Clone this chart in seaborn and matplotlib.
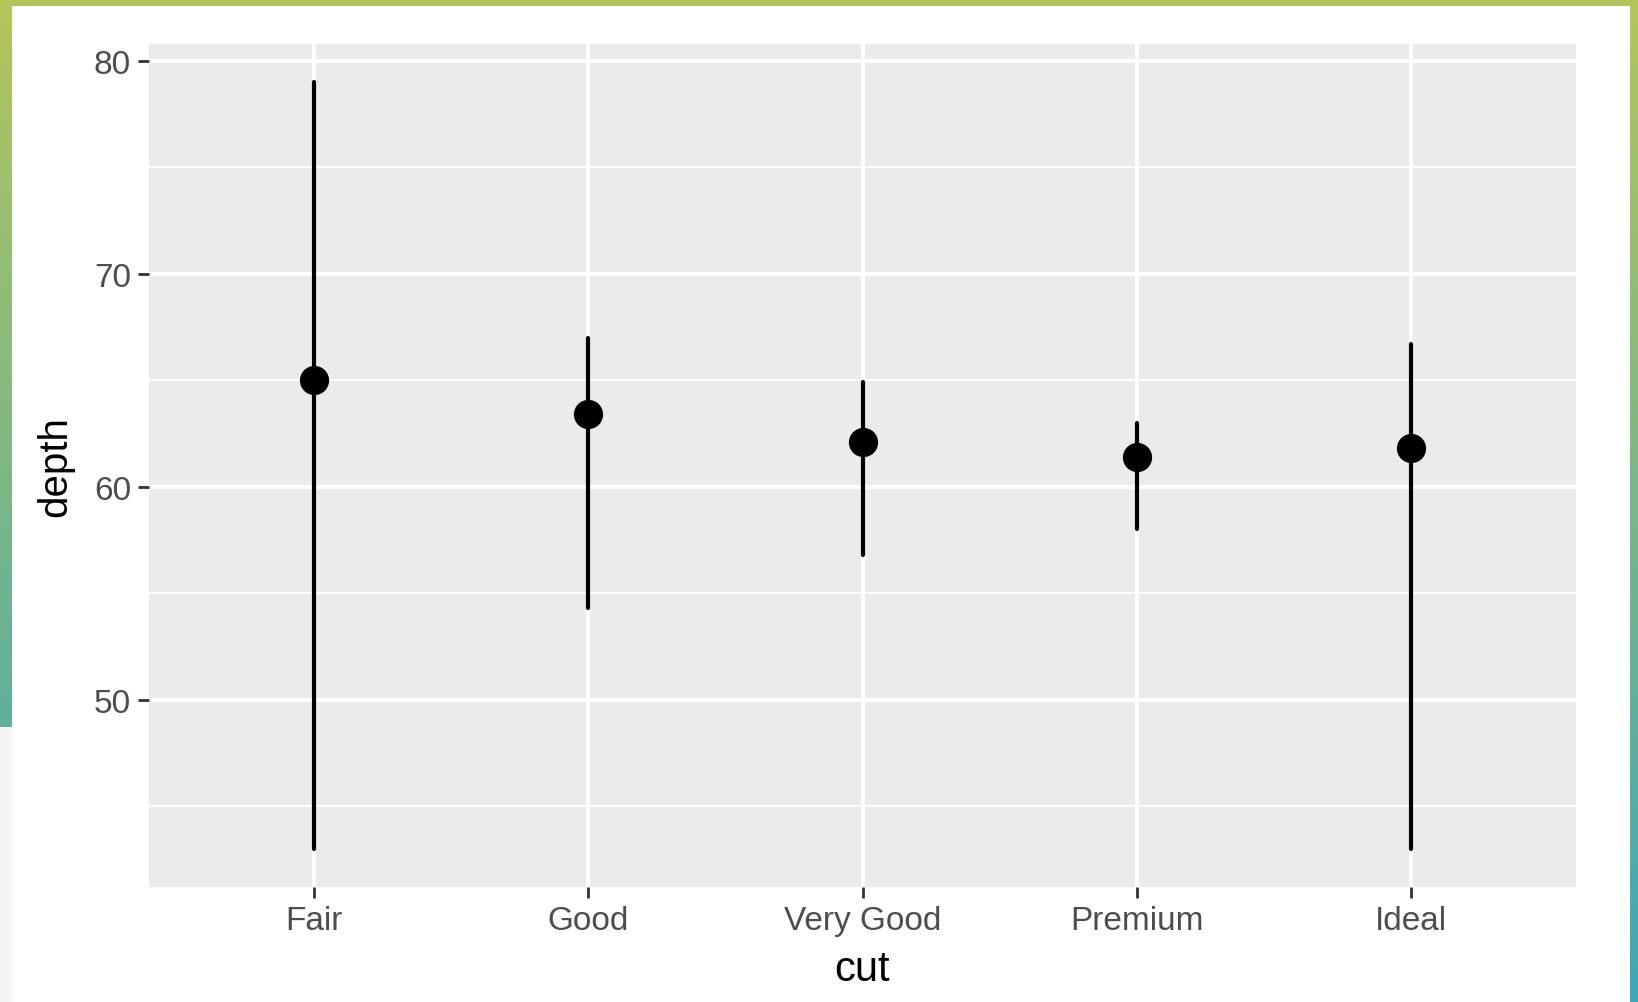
import numpy as np
import pandas as pd
import matplotlib
matplotlib.use("Agg")
import matplotlib.pyplot as plt
import seaborn as sns
from matplotlib.ticker import MultipleLocator

# Depth summary per diamond cut: minimum, median and maximum
cuts = ["Fair", "Good", "Very Good", "Premium", "Ideal"]
depth_min = [43.0, 54.3, 56.8, 58.0, 43.0]
depth_median = [65.0, 63.4, 62.1, 61.4, 61.8]
depth_max = [79.0, 67.0, 64.9, 63.0, 66.7]

# Long table: median of (min, median, max) is the median, the range is min..max
rows = []
for c, lo, med, hi in zip(cuts, depth_min, depth_median, depth_max):
    for v in (lo, med, hi):
        rows.append({"cut": c, "depth": v})
df = pd.DataFrame(rows)

sns.set_theme(style="darkgrid")
plt.rcParams["font.family"] = ["Liberation Sans", "DejaVu Sans"]

W, H = 1638, 1003
fig = plt.figure(figsize=(W / 100, H / 100), dpi=100)
fig.patch.set_facecolor("white")

# Gradient frame around the card
top_c = np.array([180, 197, 92]) / 255
bot_c = np.array([64, 167, 182]) / 255
t = np.linspace(0, 1, H)[:, None]
col = top_c + (bot_c - top_c) * t
frame = np.repeat(col[:, None, :], W, axis=1)
frame[7:, 12:1630] = 1.0
frame[728:, :12] = 0.961
bg = fig.add_axes([0, 0, 1, 1], zorder=-10)
bg.imshow(frame, aspect="auto", interpolation="nearest")
bg.axis("off")

ax = fig.add_axes([149 / W, 1 - 888 / H, (1576 - 149) / W, (888 - 45) / H])
ax.set_facecolor("#ebebeb")

sns.pointplot(
    data=df, x="cut", y="depth", order=cuts,
    estimator="median", errorbar=lambda v: (v.min(), v.max()),
    linestyle="none", color="black", markers="o", markersize=19,
    err_kws={"linewidth": 3.0, "color": "black"}, ax=ax,
)

ax.set_xlim(-0.6, 4.6)
ax.set_ylim(41.2, 80.8)
ax.yaxis.set_major_locator(MultipleLocator(10))
ax.yaxis.set_minor_locator(MultipleLocator(5))

ax.grid(which="major", color="white", linewidth=2.9)
ax.grid(which="minor", axis="y", color="white", linewidth=1.45)
ax.set_axisbelow(True)
for s in ax.spines.values():
    s.set_visible(False)

ax.tick_params(which="major", length=8, width=2, color="#333333",
               labelcolor="#4d4d4d", labelsize=24, pad=5,
               bottom=True, left=True)
ax.tick_params(which="minor", length=0)

ax.set_xlabel("cut", fontsize=30, color="black", labelpad=9)
ax.set_ylabel("depth", fontsize=29, color="black", labelpad=14)

fig.savefig("out.png", dpi=100)
